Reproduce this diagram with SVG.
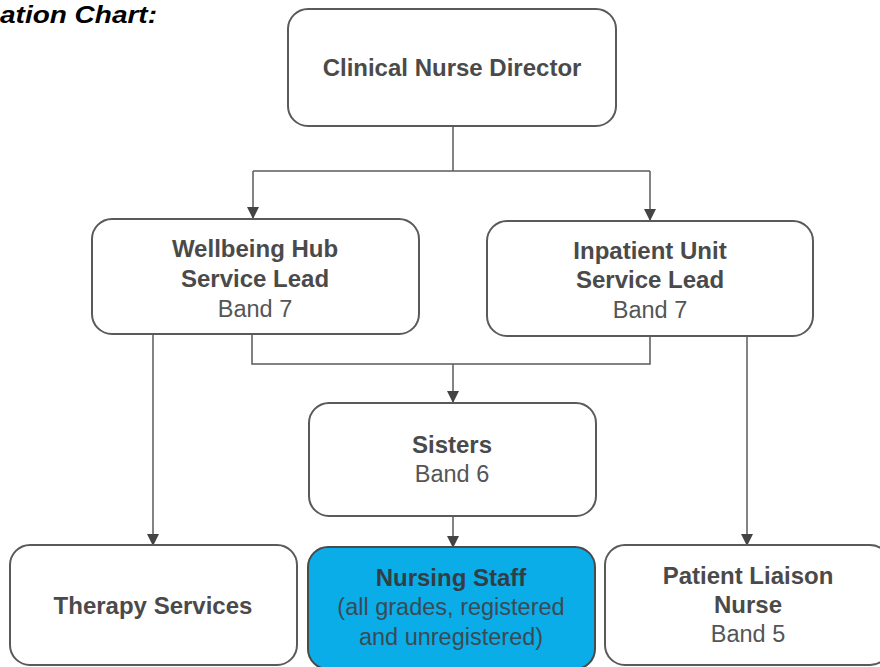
<svg xmlns="http://www.w3.org/2000/svg" width="880" height="667" viewBox="0 0 880 667">
<defs>
<style>
.box{fill:#fff;stroke:#5a5a5a;stroke-width:2}
.hi{fill:#0aade8;stroke:#4a4a4a;stroke-width:2}
.b{font-family:"Liberation Sans",Arial,sans-serif;font-weight:bold;font-size:24px;fill:#4a4a4a;text-anchor:middle}
.r{font-family:"Liberation Sans",Arial,sans-serif;font-size:23.5px;fill:#555;text-anchor:middle}
.hb{fill:#333d44}
.hr{fill:#3b4a54}
.c{fill:none;stroke:#5a5a5a;stroke-width:1.5}
</style>
<marker id="ah" markerWidth="12" markerHeight="12" viewBox="0 0 12 12" refX="11" refY="6" orient="auto" markerUnits="userSpaceOnUse">
<path d="M0,0 L12,6 L0,12 z" fill="#444"/>
</marker>
</defs>
<rect width="880" height="667" fill="#fff"/>
<text x="0" y="23" textLength="157" lengthAdjust="spacingAndGlyphs" style="font-family:'Liberation Sans',Arial,sans-serif;font-weight:bold;font-style:italic;font-size:24px;fill:#000">ation Chart:</text>
<g id="connectors">
<path class="c" d="M453,126 V171"/>
<path class="c" d="M253,171 H650"/>
<path class="c" d="M253,171 V218" marker-end="url(#ah)"/>
<path class="c" d="M650,171 V220" marker-end="url(#ah)"/>
<path class="c" d="M153,334 V545" marker-end="url(#ah)"/>
<path class="c" d="M252,334 V364 H650 V336"/>
<path class="c" d="M453,364 V402" marker-end="url(#ah)"/>
<path class="c" d="M747,336 V545" marker-end="url(#ah)"/>
<path class="c" d="M453,516 V547" marker-end="url(#ah)"/>
</g>
<g id="director">
<rect class="box" x="288" y="9" width="328" height="117" rx="20"/>
<text class="b" x="452" y="76">Clinical Nurse Director</text>
</g>
<g id="wellbeing">
<rect class="box" x="92" y="219" width="327" height="115" rx="20"/>
<text class="b" x="255" y="257">Wellbeing Hub</text>
<text class="b" x="255" y="287">Service Lead</text>
<text class="r" x="255" y="317">Band 7</text>
</g>
<g id="inpatient">
<rect class="box" x="487" y="221" width="326" height="115" rx="20"/>
<text class="b" x="650" y="259">Inpatient Unit</text>
<text class="b" x="650" y="288">Service Lead</text>
<text class="r" x="650" y="318">Band 7</text>
</g>
<g id="sisters">
<rect class="box" x="309" y="403" width="287" height="113" rx="20"/>
<text class="b" x="452" y="453">Sisters</text>
<text class="r" x="452" y="482">Band 6</text>
</g>
<g id="therapy">
<rect class="box" x="10" y="545" width="287" height="120" rx="20"/>
<text class="b" x="153" y="614">Therapy Services</text>
</g>
<g id="nursing">
<rect class="hi" x="308" y="547" width="287" height="122" rx="20"/>
<text class="b hb" x="451" y="586">Nursing Staff</text>
<text class="r hr" x="451" y="615">(all grades, registered</text>
<text class="r hr" x="451" y="645">and unregistered)</text>
</g>
<g id="liaison">
<rect class="box" x="605" y="545" width="285" height="120" rx="20"/>
<text class="b" x="748" y="584">Patient Liaison</text>
<text class="b" x="748" y="613">Nurse</text>
<text class="r" x="748" y="642">Band 5</text>
</g>
</svg>
